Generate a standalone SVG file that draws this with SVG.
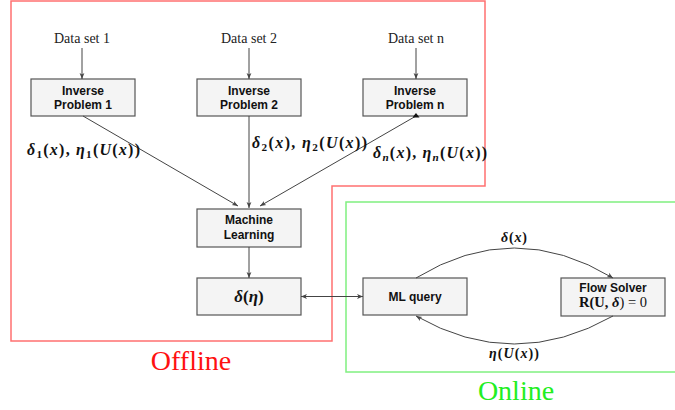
<svg xmlns="http://www.w3.org/2000/svg" width="675" height="410" viewBox="0 0 675 410">
  <style>
    .box { fill: #f4f4f4; stroke: #555; stroke-width: 1.2; }
    .lbl { font-family: "Liberation Sans", Arial, sans-serif; font-weight: bold; font-size: 12px; fill: #111; text-anchor: middle; }
    .ds { font-family: "Liberation Serif", "Times New Roman", serif; font-size: 14px; fill: #222; text-anchor: middle; }
    .m { font-family: "Liberation Serif", "Times New Roman", serif; font-weight: bold; font-style: italic; fill: #111; }
    .u { font-style: normal; }
    .r { font-weight: normal; font-style: normal; }
    .sub { font-size: 70%; }
    .edge { fill: none; stroke: #444; stroke-width: 1; }
    .region { fill: none; stroke-width: 1.5; }
    .title { font-family: "Liberation Serif", "Times New Roman", serif; font-size: 28px; text-anchor: middle; }
  </style>
  <defs>
    <marker id="arr" markerUnits="userSpaceOnUse" markerWidth="8" markerHeight="7" refX="6" refY="3" orient="auto-start-reverse">
      <path d="M0,0.6 L6,3 L0,5.4 L1.6,3 z" fill="#444"/>
    </marker>
    <!-- upright filled tip on the Inverse Problem n edge -->
    <marker id="tri" markerUnits="userSpaceOnUse" markerWidth="8" markerHeight="8" refX="1.5" refY="3.5" orient="270">
      <path d="M0,0 L4.5,3.5 L0,7 z" fill="#111"/>
    </marker>
  </defs>

  <!-- offline / online regions -->
  <g id="regions">
    <polygon class="region" stroke="#ff7070" points="11,1 485,1 485,186 332,186 332,341 11,341"/>
    <text class="title" x="191" y="370" fill="#ff1111">Offline</text>
    <rect class="region" stroke="#80f080" x="346" y="202" width="340" height="170"/>
    <text class="title" x="516" y="400" fill="#22ee22">Online</text>
  </g>

  <!-- data set labels -->
  <g id="ds1"><text class="ds" x="82" y="43">Data set 1</text></g>
  <g id="ds2"><text class="ds" x="249" y="43">Data set 2</text></g>
  <g id="dsn"><text class="ds" x="416" y="43">Data set n</text></g>

  <!-- inverse problems -->
  <g id="ip1">
    <rect class="box" x="31" y="79" width="104" height="37"/>
    <text class="lbl" x="83" y="94.5">Inverse</text>
    <text class="lbl" x="83" y="109">Problem 1</text>
  </g>
  <g id="ip2">
    <rect class="box" x="197" y="79" width="104" height="37"/>
    <text class="lbl" x="249" y="94.5">Inverse</text>
    <text class="lbl" x="249" y="109">Problem 2</text>
  </g>
  <g id="ipn">
    <rect class="box" x="363" y="79" width="104" height="37"/>
    <text class="lbl" x="415" y="94.5">Inverse</text>
    <text class="lbl" x="415" y="109">Problem n</text>
  </g>

  <!-- machine learning -->
  <g id="ml">
    <rect class="box" x="197" y="209" width="104" height="38"/>
    <text class="lbl" x="249" y="224">Machine</text>
    <text class="lbl" x="249" y="238.5">Learning</text>
  </g>
  <g id="model">
    <rect class="box" x="197" y="278" width="104" height="37"/>
    <text class="m" x="249" y="302" font-size="17" font-weight="normal" text-anchor="middle">δ<tspan class="u">(</tspan>η<tspan class="u">)</tspan></text>
  </g>

  <!-- online loop -->
  <g id="query">
    <rect class="box" x="363" y="278" width="104" height="37"/>
    <text class="lbl" x="415" y="300.5">ML query</text>
  </g>
  <g id="solver">
    <rect class="box" x="561" y="278" width="104" height="38"/>
    <text class="lbl" x="613" y="291.5">Flow Solver</text>
    <text class="m" x="579" y="307" font-size="14.5" textLength="68"><tspan class="u">R(U,</tspan> δ<tspan class="r">) = 0</tspan></text>
  </g>

  <!-- connectors -->
  <g id="connectors">
    <line class="edge" x1="82" y1="48" x2="82" y2="79" marker-end="url(#arr)"/>
    <line class="edge" x1="249" y1="48" x2="249" y2="79" marker-end="url(#arr)"/>
    <line class="edge" x1="416" y1="48" x2="416" y2="79" marker-end="url(#arr)"/>
    <line class="edge" x1="83" y1="116" x2="238" y2="206" marker-end="url(#arr)"/>
    <line class="edge" x1="249" y1="116" x2="249" y2="208" marker-end="url(#arr)"/>
    <line class="edge" x1="416" y1="116" x2="260" y2="206" marker-start="url(#tri)" marker-end="url(#arr)"/>
    <line class="edge" x1="249" y1="247" x2="249" y2="278" marker-end="url(#arr)"/>
    <line class="edge" x1="301" y1="296.5" x2="363" y2="296.5" marker-start="url(#arr)" marker-end="url(#arr)"/>
    <path class="edge" d="M416,278 Q514,218 613,278" marker-end="url(#arr)"/>
    <path class="edge" d="M613,316 Q514,372 416,316" marker-end="url(#arr)"/>
  </g>

  <!-- edge labels -->
  <g id="edge-labels">
    <text class="m" x="27" y="155" font-size="16" textLength="113">δ<tspan class="sub u" dy="3">1</tspan><tspan class="u" dy="-3">(</tspan>x<tspan class="u">),</tspan> η<tspan class="sub u" dy="3">1</tspan><tspan class="u" dy="-3">(</tspan>U<tspan class="u">(</tspan>x<tspan class="u">))</tspan></text>
    <text class="m" x="252" y="148" font-size="16" textLength="115">δ<tspan class="sub u" dy="3">2</tspan><tspan class="u" dy="-3">(</tspan>x<tspan class="u">),</tspan> η<tspan class="sub u" dy="3">2</tspan><tspan class="u" dy="-3">(</tspan>U<tspan class="u">(</tspan>x<tspan class="u">))</tspan></text>
    <text class="m" x="373" y="158" font-size="16" textLength="114">δ<tspan class="sub" dy="3">n</tspan><tspan class="u" dy="-3">(</tspan>x<tspan class="u">),</tspan> η<tspan class="sub" dy="3">n</tspan><tspan class="u" dy="-3">(</tspan>U<tspan class="u">(</tspan>x<tspan class="u">))</tspan></text>
    <text class="m" x="501" y="242" font-size="14" textLength="26">δ<tspan class="u">(</tspan>x<tspan class="u">)</tspan></text>
    <text class="m" x="489" y="358" font-size="14" textLength="50">η<tspan class="u">(</tspan>U<tspan class="u">(</tspan>x<tspan class="u">))</tspan></text>
  </g>
</svg>
